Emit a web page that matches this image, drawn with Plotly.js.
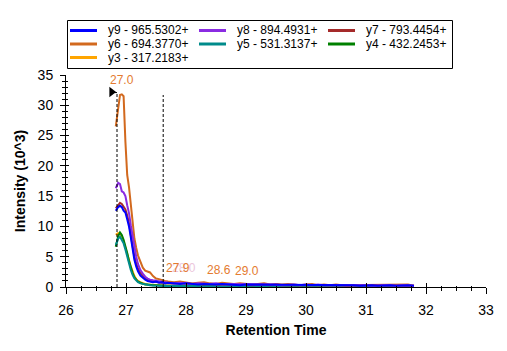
<!DOCTYPE html>
<html>
<head>
<meta charset="utf-8">
<script src="https://cdn.plot.ly/plotly-3.0.1.min.js"></script>
<style>html,body{margin:0;padding:0;background:#fff;}#chart{width:507px;height:351px;}</style>
</head>
<body>
<div id="chart"></div>
<script>
// Retention time (minutes)
const time = [26.83, 26.87, 26.90, 26.93, 26.96, 26.99, 27.02, 27.05, 27.08, 27.11, 27.14, 27.17,
  27.20, 27.24, 27.28, 27.32, 27.36, 27.40, 27.45, 27.50, 27.55, 27.60, 27.65, 27.70,
  27.8, 27.9, 28.0, 28.1, 28.2, 28.3, 28.4, 28.5, 28.6, 28.7, 28.8, 28.9, 29.0, 29.1, 29.2, 29.3,
  29.4, 29.5, 29.6, 29.7, 29.8, 29.9, 30.0, 30.1, 30.2, 30.3, 30.4, 30.5, 30.6, 30.7, 30.8, 30.9,
  31.0, 31.1, 31.2, 31.3, 31.4, 31.5, 31.6, 31.7, 31.8];

// Intensities (10^3)
const y9 = [12.6, 13.2, 13.4, 13.2, 12.6, 12.3, 11.2, 10.0, 8.2, 6.2, 4.5, 3.4,
  2.6, 1.9, 1.5, 1.2, 1.0, 0.9, 0.8, 0.9, 0.7, 0.8, 0.6, 0.7,
  0.6, 0.5, 0.6, 0.5, 0.4, 0.5, 0.4, 0.4, 0.5, 0.4, 0.4, 0.3, 0.4, 0.4, 0.3, 0.4,
  0.3, 0.3, 0.4, 0.3, 0.3, 0.4, 0.3, 0.3, 0.3, 0.4, 0.3, 0.3, 0.3, 0.3, 0.3, 0.2,
  0.3, 0.3, 0.2, 0.3, 0.3, 0.2, 0.3, 0.3, 0.2];
const y8 = [16.3, 17.2, 17.0, 15.8, 15.6, 15.0, 13.5, 12.2, 10.2, 8.3, 6.4, 5.0,
  3.8, 2.8, 2.2, 1.7, 1.4, 1.2, 1.1, 1.0, 0.9, 0.8, 0.8, 0.7,
  0.6, 0.7, 0.6, 0.5, 0.6, 0.5, 0.5, 0.6, 0.4, 0.5, 0.5, 0.4, 0.5, 0.4, 0.4, 0.5,
  0.4, 0.4, 0.3, 0.4, 0.4, 0.3, 0.4, 0.3, 0.4, 0.3, 0.3, 0.4, 0.3, 0.3, 0.3, 0.3,
  0.3, 0.2, 0.3, 0.3, 0.3, 0.2, 0.3, 0.3, 0.2];
const y7 = [13.0, 13.6, 13.9, 13.7, 13.2, 12.8, 11.8, 10.5, 8.6, 6.6, 5.0, 3.9,
  3.0, 2.3, 1.8, 1.4, 1.2, 1.0, 0.9, 0.8, 0.8, 0.7, 0.7, 0.6,
  0.6, 0.6, 0.5, 0.5, 0.5, 0.4, 0.5, 0.4, 0.4, 0.5, 0.4, 0.4, 0.4, 0.3, 0.4, 0.4,
  0.3, 0.4, 0.3, 0.3, 0.4, 0.3, 0.3, 0.3, 0.4, 0.3, 0.3, 0.3, 0.3, 0.2, 0.3, 0.3,
  0.3, 0.3, 0.2, 0.3, 0.3, 0.3, 0.2, 0.3, 0.2];
const y6 = [26.5, 29.5, 31.7, 31.8, 31.5, 24.0, 18.5, 16.5, 13.5, 11.0, 8.0, 6.5,
  5.2, 4.2, 3.2, 2.7, 2.6, 2.4, 1.8, 1.4, 1.3, 1.1, 1.0, 0.9,
  0.8, 0.9, 0.7, 0.6, 0.7, 0.8, 0.6, 0.5, 0.7, 0.6, 0.5, 0.6, 0.5, 0.4, 0.5, 0.6,
  0.4, 0.5, 0.4, 0.5, 0.4, 0.3, 0.4, 0.5, 0.3, 0.4, 0.3, 0.4, 0.3, 0.3, 0.4, 0.3,
  0.3, 0.4, 0.3, 0.3, 0.4, 0.3, 0.3, 0.4, 0.2];
const y5 = [6.9, 8.0, 8.3, 7.8, 7.2, 6.2, 5.0, 3.8, 2.8, 2.0, 1.4, 1.1,
  0.8, 0.6, 0.5, 0.4, 0.3, 0.3, 0.25, 0.2, 0.2, 0.2, 0.15, 0.15,
  0.15, 0.1, 0.15, 0.1, 0.1, 0.15, 0.1, 0.1, 0.1, 0.15, 0.1, 0.1, 0.1, 0.1, 0.15, 0.1,
  0.1, 0.1, 0.1, 0.1, 0.1, 0.1, 0.1, 0.1, 0.1, 0.1, 0.1, 0.1, 0.1, 0.1, 0.1, 0.1,
  0.1, 0.1, 0.1, 0.1, 0.1, 0.1, 0.1, 0.1, 0.1];
const y4 = [6.65, 8.4, 9.0, 8.6, 7.8, 6.8, 5.6, 4.3, 3.1, 2.3, 1.6, 1.2,
  0.9, 0.7, 0.5, 0.4, 0.4, 0.3, 0.3, 0.3, 0.25, 0.2, 0.2, 0.2,
  0.2, 0.15, 0.2, 0.15, 0.15, 0.2, 0.15, 0.15, 0.15, 0.2, 0.15, 0.15, 0.15, 0.15, 0.15, 0.1,
  0.15, 0.15, 0.1, 0.15, 0.1, 0.1, 0.15, 0.1, 0.1, 0.1, 0.1, 0.1, 0.1, 0.1, 0.1, 0.1,
  0.1, 0.1, 0.1, 0.1, 0.1, 0.1, 0.1, 0.1, 0.1];
const y3 = [8.6, 8.9, 8.8, 8.3, 7.5, 6.6, 5.6, 4.5, 3.4, 2.5, 1.8, 1.3,
  1.0, 0.8, 0.6, 0.5, 0.4, 0.4, 0.3, 0.3, 0.3, 0.25, 0.2, 0.2,
  0.2, 0.2, 0.15, 0.2, 0.15, 0.15, 0.2, 0.15, 0.15, 0.15, 0.15, 0.15, 0.15, 0.1, 0.15, 0.15,
  0.1, 0.15, 0.1, 0.1, 0.1, 0.1, 0.1, 0.1, 0.1, 0.1, 0.1, 0.1, 0.1, 0.1, 0.1, 0.1,
  0.1, 0.1, 0.1, 0.1, 0.1, 0.1, 0.1, 0.1, 0.1];

const seriesNames = ["y9 - 965.5302+", "y8 - 894.4931+", "y7 - 793.4454+", "y6 - 694.3770+",
  "y5 - 531.3137+", "y4 - 432.2453+", "y3 - 317.2183+"];
const seriesValues = [y9, y8, y7, y6, y5, y4, y3];
const seriesColors = ["#0000ff", "#8a2be2", "#a52a2a", "#d2691e", "#008b8b", "#008000", "#ffa500"];

// Integration boundaries and peak marker
const boundaryTimes = [26.85, 27.62];
const boundaryTops = [32.1, 31.7];
const arrowTime = [26.76];
const arrowIntensity = [32.2];

// Peak labels
const labelText = ["27.0", "28.0", "27.9", "28.6", "29.0"];
const labelTime = [26.93, 27.97, 27.86, 28.55, 29.02];
const labelIntensity = [34.2, 3.1, 3.1, 2.8, 2.6];
const labelColor = ["#e47b30", "#ecc6dc", "#e47b30", "#e47b30", "#e47b30"];

const FONT = "Arial, 'Liberation Sans', sans-serif";

// plot box in pixels (used to place the hand-built legend in paper coordinates)
const W = 507, H = 351, ML = 66, MR = 21, MT = 75, MB = 64;
const PW = W - ML - MR, PH = H - MT - MB;
const px = v => (v - ML) / PW;
const py = v => (H - MB - v) / PH;

const traces = [];
for (let i = seriesNames.length - 1; i >= 0; i--) {
  traces.push({
    x: time, y: seriesValues[i], name: seriesNames[i], type: "scatter", mode: "lines",
    line: {color: seriesColors[i], width: 2}, hoverinfo: "skip", showlegend: false
  });
}
traces.push({
  x: arrowTime, y: arrowIntensity, type: "scatter", mode: "markers", showlegend: false,
  marker: {symbol: "triangle-right", size: 9, color: "#000"}, hoverinfo: "skip"
});
traces.push({x: [null], y: [null], xaxis: "x2", yaxis: "y2", showlegend: false, hoverinfo: "skip"});

const shapes = boundaryTimes.map((t, i) => ({
  type: "line", xref: "x", yref: "y", x0: t, x1: t, y0: 0, y1: boundaryTops[i],
  line: {color: "#000", width: 1, dash: "3px,2px"}
}));
shapes.push({type: "line", xref: "x", yref: "y", x0: arrowTime[0], x1: boundaryTimes[0],
  y0: arrowIntensity[0] - 0.1, y1: arrowIntensity[0] - 0.1, line: {color: "#000", width: 1}});

const annotations = labelText.map((s, i) => ({
  text: s, x: labelTime[i], y: labelIntensity[i], xref: "x", yref: "y", showarrow: false,
  font: {family: FONT, size: 12, color: labelColor[i]}
}));

// Legend (3 columns) built from series names and colours
shapes.push({type: "rect", xref: "paper", yref: "paper", x0: px(67.5), x1: px(452.5), y0: py(20.5), y1: py(68.5),
  line: {color: "#000", width: 1}, fillcolor: "#fff", layer: "above"});
seriesNames.forEach((name, i) => {
  const col = i % 3, row = Math.floor(i / 3);
  const lx = 70 + col * 129, ly = 30.5 + row * 13.5;
  shapes.push({type: "line", xref: "paper", yref: "paper", x0: px(lx), x1: px(lx + 27), y0: py(ly), y1: py(ly),
    line: {color: seriesColors[i], width: 3}, layer: "above"});
  annotations.push({text: name, xref: "paper", yref: "paper", x: px(lx + 36), y: py(ly), xanchor: "left", yanchor: "middle",
    showarrow: false, font: {family: FONT, size: 12, color: "#000"}});
});

const layout = {
  width: W, height: H,
  margin: {l: ML, r: MR, t: MT, b: MB},
  paper_bgcolor: "#fff", plot_bgcolor: "#fff",
  font: {family: FONT, size: 14, color: "#000"},
  showlegend: false,
  xaxis: {
    range: [26, 33], dtick: 1, tick0: 26, showgrid: false, zeroline: false,
    showline: true, linecolor: "#000", linewidth: 1,
    ticks: "outside", ticklen: 6, tickcolor: "#000", tickwidth: 1,
    minor: {dtick: 0.25, ticks: "outside", ticklen: 3, tickcolor: "#000", showgrid: false},
    tickfont: {family: FONT, size: 14, color: "#000"}, ticklabelstandoff: 4,
    title: {text: "<b>Retention Time</b>", font: {family: FONT, size: 14, color: "#000"}, standoff: 8}
  },
  yaxis: {
    range: [0, 35], dtick: 5, tick0: 0, showgrid: false, zeroline: false,
    showline: true, linecolor: "#000", linewidth: 1,
    ticks: "outside", ticklen: 5, tickcolor: "#000", tickwidth: 1,
    minor: {dtick: 1, ticks: "outside", ticklen: 3, tickcolor: "#000", showgrid: false},
    tickfont: {family: FONT, size: 14, color: "#000"}, ticklabelstandoff: 4,
    title: {text: "<b>Intensity (10^3)</b>", font: {family: FONT, size: 14, color: "#000"}, standoff: 8}
  },
  xaxis2: {
    overlaying: "x", anchor: "y2", range: [26, 33], dtick: 1, tick0: 26,
    showgrid: false, zeroline: false, showline: false, showticklabels: false,
    ticks: "inside", ticklen: 4, tickcolor: "#000",
    minor: {dtick: 0.25, ticks: "inside", ticklen: 1, tickcolor: "#000", showgrid: false}
  },
  yaxis2: {
    overlaying: "y", anchor: "x2", range: [0, 35], dtick: 5, tick0: 0,
    showgrid: false, zeroline: false, showline: false, showticklabels: false,
    ticks: "inside", ticklen: 3, tickcolor: "#000",
    minor: {dtick: 1, ticks: "inside", ticklen: 2, tickcolor: "#000", showgrid: false}
  },
  shapes: shapes,
  annotations: annotations
};

Plotly.newPlot("chart", traces, layout, {staticPlot: true, displayModeBar: false});
</script>
</body>
</html>
